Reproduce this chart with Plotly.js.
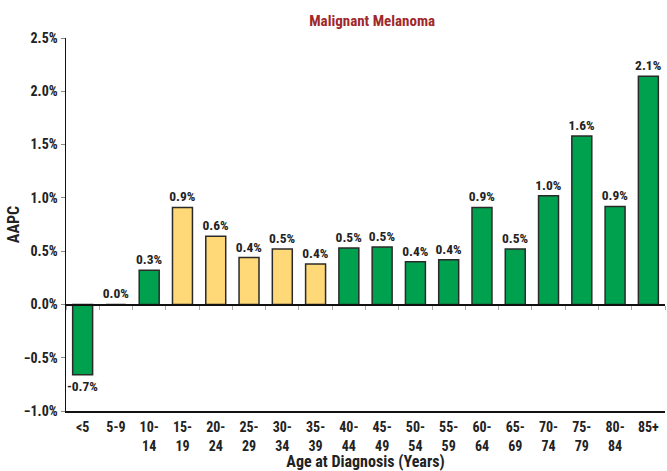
<!DOCTYPE html>
<html>
<head>
<meta charset="utf-8">
<script src="https://cdn.plot.ly/plotly-3.0.1.min.js"></script>
<style>html,body{margin:0;padding:0;background:#fff;}#chart{width:667px;height:471px;}</style>
</head>
<body>
<div id="chart"></div>
<script>
const categories = ["<5","5-9","10-14","15-19","20-24","25-29","30-34","35-39","40-44","45-49","50-54","55-59","60-64","65-69","70-74","75-79","80-84","85+"];
const tickLabels = ["<5","5-9","10-<br>14","15-<br>19","20-<br>24","25-<br>29","30-<br>34","35-<br>39","40-<br>44","45-<br>49","50-<br>54","55-<br>59","60-<br>64","65-<br>69","70-<br>74","75-<br>79","80-<br>84","85+"];
const aapc = [-0.66, 0.0, 0.32, 0.91, 0.64, 0.44, 0.52, 0.38, 0.53, 0.54, 0.40, 0.42, 0.91, 0.52, 1.02, 1.58, 0.92, 2.14];
const groups = ["g","g","g","y","y","y","y","y","g","g","g","g","g","g","g","g","g","g"];

const GREEN = "#00A14E", YELLOW = "#FFD977";
const FONT = "'Roboto Condensed', 'Liberation Sans', Arial, sans-serif";
const labels = aapc.map(v => "<b>" + v.toFixed(1) + "%</b>");

const bars = {
  type: "bar",
  x: categories,
  y: aapc,
  text: labels,
  textposition: "outside",
  constraintext: "none",
  cliponaxis: false,
  textfont: {family: FONT, size: 13.5, color: "#222"},
  marker: {color: groups.map(g => g === "g" ? GREEN : YELLOW), line: {color: "#2a2a2a", width: 1.5}},
  hoverinfo: "skip",
  showlegend: false
};
const ghost = {
  type: "scatter", mode: "none", x: categories, y: aapc, xaxis: "x2", yaxis: "y",
  hoverinfo: "skip", showlegend: false
};

const yMin = -1.0, yMax = 2.5;
const layout = {
  width: 667, height: 471,
  margin: {l: 66, r: 2, t: 38, b: 60},
  paper_bgcolor: "#fff", plot_bgcolor: "#fff",
  bargap: 0.4,
  font: {family: FONT, color: "#222"},
  title: {text: "<b>Malignant Melanoma</b>", font: {family: FONT, size: 15, color: "#A0282A"}, x: 0.558, xanchor: "center", y: 0.955, yanchor: "middle"},
  xaxis: {
    type: "category", categoryorder: "array", categoryarray: categories,
    tickvals: categories, ticktext: tickLabels.map(t => "<b>" + t + "</b>"),
    tickfont: {family: FONT, size: 14, color: "#222"},
    ticklabelstandoff: 3,
    showline: true, linecolor: "#111", linewidth: 1.5, ticks: "", showgrid: false, zeroline: false,
    range: [-0.5, 17.5], fixedrange: true,
    title: {text: "<b>Age at Diagnosis (Years)</b>", font: {family: FONT, size: 16, color: "#222"}, standoff: 2}
  },
  xaxis2: {
    type: "category", categoryorder: "array", categoryarray: categories,
    overlaying: "x", anchor: "free", position: (0 - yMin) / (yMax - yMin), side: "bottom",
    range: [-0.5, 17.5], showticklabels: false, ticks: "outside", tickson: "boundaries",
    ticklen: 4, tickcolor: "#aaa", tickwidth: 1, showline: true, linecolor: "#111", linewidth: 1.5,
    showgrid: false, zeroline: false
  },
  yaxis: {
    range: [yMin, yMax], dtick: 0.5, tick0: 0, tickformat: ".1f",
    tickprefix: "<b>", ticksuffix: "%</b>",
    showline: true, linecolor: "#111", linewidth: 1.5, ticks: "outside", ticklen: 4, tickcolor: "#888",
    showgrid: false, zeroline: false,
    tickfont: {family: FONT, size: 14, color: "#222"},
    title: {text: "<b>AAPC</b>", font: {family: FONT, size: 16, color: "#222"}, standoff: 0}
  }
};

Plotly.newPlot("chart", [bars, ghost], layout, {displayModeBar: false, staticPlot: true});
</script>
</body>
</html>
